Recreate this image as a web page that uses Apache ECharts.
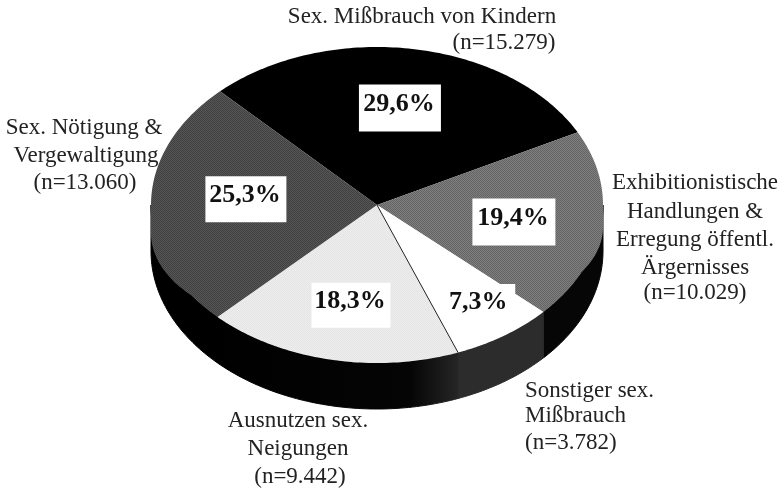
<!DOCTYPE html>
<html><head><meta charset="utf-8">
<style>html,body{margin:0;padding:0;background:#fff}#c{width:783px;height:490px}</style>
<script src="https://cdn.jsdelivr.net/npm/echarts@6/dist/echarts.min.js"></script>
</head><body><div id="c"></div>
<script>
const categories = ['Sex. Mißbrauch von Kindern','Exhibitionistische Handlungen','Sonstiger sex. Mißbrauch','Ausnutzen sex. Neigungen','Sex. Nötigung & Vergewaltigung'];
const counts = [15279, 10029, 3782, 9442, 13060];
const percentLabels = ['29,6%','19,4%','7,3%','18,3%','25,3%'];

const CX = 377, CY = 205, RX = 226, RY = 158, DEPTH = 46, START = -44, LABEL_R = 0.6;
const total = counts.reduce((a, b) => a + b, 0);
const topDark = [['#000000','#000000'],['#7f7f7f','#646464'],['#ffffff','#ffffff'],['#eeeeee','#e4e4e4'],['#565656','#404040']];
const sideFills = ['#000000','#060606',
  '#2c2c2c',
  {type:'linear',x:0,y:0,x2:1,y2:0,colorStops:[{offset:0,color:'#000'},{offset:0.8,color:'#050505'},{offset:1,color:'#262626'}]},
  '#000000'];
const labelNudge = [[0,-7.5],[1.5,0.5],[25,18.5],[1,3.5],[3.5,-9]];
const labelBox = [[82,47],[83,47],[72,44],[79,45],[81,46]];
const outerLabels = [
  {t:'Sex. Mißbrauch von Kindern',x:422,y:17},
  {t:'(n=15.279)',x:504,y:43},
  {t:'Exhibitionistische',x:695,y:183},
  {t:'Handlungen &',x:695,y:212},
  {t:'Erregung öffentl.',x:695,y:240},
  {t:'Ärgernisses',x:695,y:268},
  {t:'(n=10.029)',x:695,y:293},
  {t:'Sonstiger sex.',x:525,y:391,a:'left'},
  {t:'Mißbrauch',x:525,y:416,a:'left'},
  {t:'(n=3.782)',x:525,y:443,a:'left'},
  {t:'Ausnutzen sex.',x:298,y:421},
  {t:'Neigungen',x:298,y:449},
  {t:'(n=9.442)',x:300,y:477},
  {t:'Sex. Nötigung &',x:84,y:128},
  {t:'Vergewaltigung',x:86,y:156},
  {t:'(n=13.060)',x:85,y:183}
];

function pattern(a, b) {
  if (a === b) return a;
  const s = document.createElement('canvas'); s.width = s.height = 2;
  const g = s.getContext('2d');
  g.fillStyle = a; g.fillRect(0,0,2,2);
  g.fillStyle = b; g.fillRect(0,0,1,1); g.fillRect(1,1,1,1);
  return {image:s, repeat:'repeat'};
}
const topFills = topDark.map(p => pattern(p[0], p[1]));

function pt(deg, r, dy) {
  const t = deg * Math.PI / 180;
  return [CX + RX * r * Math.sin(t), CY - RY * r * Math.cos(t) + (dy || 0)];
}
const spans = []; let acc = START;
counts.forEach(v => { const d = v / total * 360; spans.push([acc, acc + d]); acc += d; });

function arc(a, b, dy) {
  const out = [], n = Math.max(2, Math.ceil(Math.abs(b - a)));
  for (let i = 0; i <= n; i++) out.push(pt(a + (b - a) * i / n, 1, dy));
  return out;
}
// the face's rim drops a little at its left and right shoulders, as in the scanned drawing
function rimDrop(deg) {
  if (deg >= 90 && deg < 115) return 22 * (115 - deg) / 25;
  if (deg > 235 && deg <= 270) return 28 * (deg - 235) / 35;
  return 0;
}
function rim(a, b) {
  const stops = [a];
  for (let d = Math.ceil(a); d < b; d++) if (d > a) stops.push(d);
  stops.push(b);
  return stops.map(d => pt(d, 1, rimDrop(d)));
}
function renderSide(params, api) {
  const i = api.value(0), a = Math.max(spans[i][0], 90), b = Math.min(spans[i][1], 270);
  if (b <= a) return {type:'group', children:[]};
  return {type:'polygon', shape:{points: arc(a, b, 0).concat(arc(b, a, DEPTH))}, style:{fill:sideFills[i], stroke:sideFills[i], lineWidth:1}};
}
function renderTop(params, api) {
  const i = api.value(0), [a, b] = spans[i];
  const m = (a + b) / 2, p = pt(m, LABEL_R), n = labelNudge[i], box = labelBox[i];
  const x = p[0] + n[0], y = p[1] + n[1];
  const kids = [
    {type:'polygon', z2:1, shape:{points: [[CX,CY]].concat(rim(a, b))}, style:{fill:topFills[i]}},
    {type:'rect', z2:2, shape:{x:x+1-box[0]/2, y:y+4-box[1]/2, width:box[0], height:box[1]}, style:{fill:'#fff'}},
    {type:'text', z2:3, x:x, y:y, style:{text:percentLabels[i], font:'bold 26px "Liberation Serif"', fill:'#111', align:'center', verticalAlign:'middle'}}
  ];
  if (i === 2) {
    const e = pt(b, 1);
    kids.push({type:'line', z2:2, shape:{x1:CX, y1:CY, x2:e[0], y2:e[1]}, style:{stroke:'#222', lineWidth:1}});
  }
  return {type:'group', children:kids};
}
const rows = counts.map((v, i) => [i, v, categories[i]]);
echarts.init(document.getElementById('c'), null, {renderer:'canvas'}).setOption({
  animation:false,
  backgroundColor:'#fff',
  graphic: outerLabels.map(l => ({type:'text', z:10, x:l.x, y:l.y, style:{text:l.t, font:'23px "Liberation Serif"', fill:'#222', align:l.a||'center', verticalAlign:'middle'}})),
  series:[
    {type:'custom', coordinateSystem:'none', z:1, data:rows, renderItem:renderSide, silent:true},
    {type:'custom', coordinateSystem:'none', z:2, data:rows, renderItem:renderTop, silent:true}
  ]
});
</script></body></html>
